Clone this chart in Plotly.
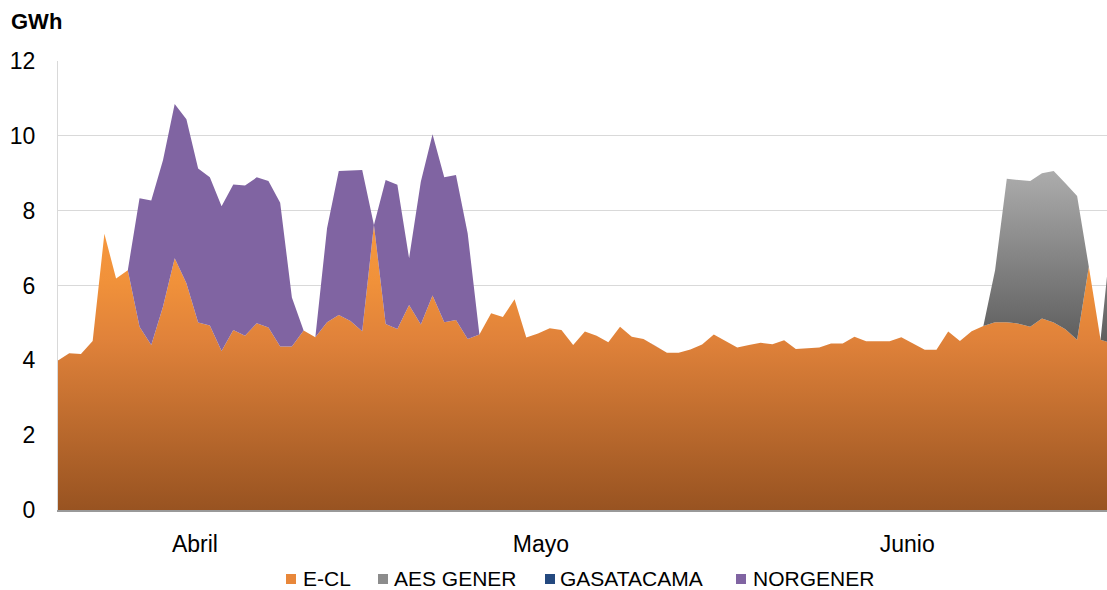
import plotly.graph_objects as go

# Daily generation (GWh) by company, April-June, one value per day
days = list(range(91))

e_cl = [3.99, 4.19, 4.17, 4.52, 7.38, 6.19, 6.41, 4.90, 4.41, 5.43,
        6.73, 6.06, 5.01, 4.93, 4.25, 4.81, 4.66, 4.99, 4.88, 4.37,
        4.37, 4.80, 4.62, 5.02, 5.21, 5.05, 4.78, 7.62, 4.97, 4.84,
        5.48, 4.96, 5.73, 5.02, 5.08, 4.57, 4.69, 5.26, 5.16, 5.63,
        4.61, 4.72, 4.86, 4.81, 4.41, 4.77, 4.66, 4.48, 4.90, 4.63,
        4.57, 4.39, 4.20, 4.20, 4.29, 4.42, 4.69, 4.52, 4.34, 4.41,
        4.47, 4.43, 4.54, 4.30, 4.33, 4.34, 4.45, 4.45, 4.63, 4.51,
        4.51, 4.51, 4.62, 4.44, 4.28, 4.28, 4.77, 4.52, 4.78, 4.92,
        5.02, 5.02, 4.98, 4.90, 5.12, 5.01, 4.83, 4.55, 6.50, 4.55,
        4.45]

aes_gener = [0.0] * 80 + [1.39, 3.83, 3.84, 3.89, 3.88, 4.05, 3.90, 3.84, 0.0, 0.0, 3.19]

gasatacama = [0.0] * 91

norgener = ([0.0] * 7
            + [3.43, 3.86, 3.92, 4.12, 4.38, 4.12, 3.96, 3.87, 3.89, 4.01,
               3.90, 3.91, 3.84, 1.31, 0.0, 0.0, 2.51, 3.85, 4.02, 4.31,
               0.0, 3.85, 3.85, 1.25, 3.81, 4.31, 3.87, 3.87, 2.82]
            + [0.0] * 55)

month_pos = [11.73, 41.25, 72.5]
month_labels = ["Abril", "Mayo", "Junio"]

FONT = "Liberation Sans, Arial, sans-serif"

fig = go.Figure()

fig.add_trace(go.Scatter(
    x=days, y=e_cl, name="E-CL", mode="lines", stackgroup="g",
    line=dict(width=0, color="#E8873A"),
    fillgradient=dict(type="vertical", start=0, stop=7.6,
                      colorscale=[[0, "#985321"], [0.6, "#E0823A"],
                                  [0.8, "#F0913A"], [1, "#F7983E"]]),
))
fig.add_trace(go.Scatter(
    x=days, y=aes_gener, name="AES GENER", mode="lines", stackgroup="g",
    line=dict(width=0, color="#8A8A8A"),
    fillgradient=dict(type="vertical", start=4.5, stop=9.1,
                      colorscale=[[0, "#5E5E5E"], [1, "#ADADAD"]]),
))
fig.add_trace(go.Scatter(
    x=days, y=gasatacama, name="GASATACAMA", mode="lines", stackgroup="g",
    line=dict(width=0, color="#24497F"), fillcolor="#24497F",
))
fig.add_trace(go.Scatter(
    x=days, y=norgener, name="NORGENER", mode="lines", stackgroup="g",
    line=dict(width=0, color="#8064A2"), fillcolor="#8064A2",
))

# Legend drawn as small squares with labels under the axis
legend_items = [("E-CL", "#E8873A", 286, 302),
                ("AES GENER", "#8C8C8C", 378, 393),
                ("GASATACAMA", "#24497F", 545, 559),
                ("NORGENER", "#8064A2", 736, 752)]


def px_x(p):
    return (p - 58) / 1049


def px_y(p):
    return (510 - p) / 449


shapes = []
annotations = []
for label, color, sq_x, txt_x in legend_items:
    shapes.append(dict(type="rect", xref="paper", yref="paper",
                       x0=px_x(sq_x), x1=px_x(sq_x + 10),
                       y0=px_y(584), y1=px_y(574),
                       fillcolor=color, line=dict(width=0)))
    annotations.append(dict(text=label, xref="paper", yref="paper",
                            x=px_x(txt_x - 1), y=px_y(578),
                            xanchor="left", yanchor="middle", showarrow=False,
                            font=dict(family=FONT, size=21, color="#000000")))

annotations.append(dict(text="<b>GWh</b>", xref="paper", yref="paper",
                        x=px_x(9), y=px_y(21), xanchor="left", yanchor="middle",
                        showarrow=False,
                        font=dict(family=FONT, size=22, color="#000000")))

fig.update_layout(
    width=1107, height=590,
    margin=dict(l=58, r=0, t=61, b=80),
    paper_bgcolor="white", plot_bgcolor="white",
    showlegend=False,
    font=dict(family=FONT, size=23, color="#000000"),
    shapes=shapes, annotations=annotations,
)
fig.update_xaxes(
    range=[0.043, 89.55], tickvals=month_pos, ticktext=month_labels,
    showgrid=False, zeroline=False, ticks="",
    showline=True, linecolor="#999999", linewidth=2,
    ticklabelstandoff=12,
    tickfont=dict(family=FONT, size=23, color="#000000"),
)
fig.update_yaxes(
    range=[0, 12], dtick=2, showgrid=True, gridcolor="#D9D9D9", gridwidth=1.3,
    zeroline=False, ticks="", showline=True, linecolor="#D9D9D9", linewidth=1.3,
    ticklabelstandoff=17,
    tickfont=dict(family=FONT, size=23, color="#000000"),
)

fig.write_html("out.html")
